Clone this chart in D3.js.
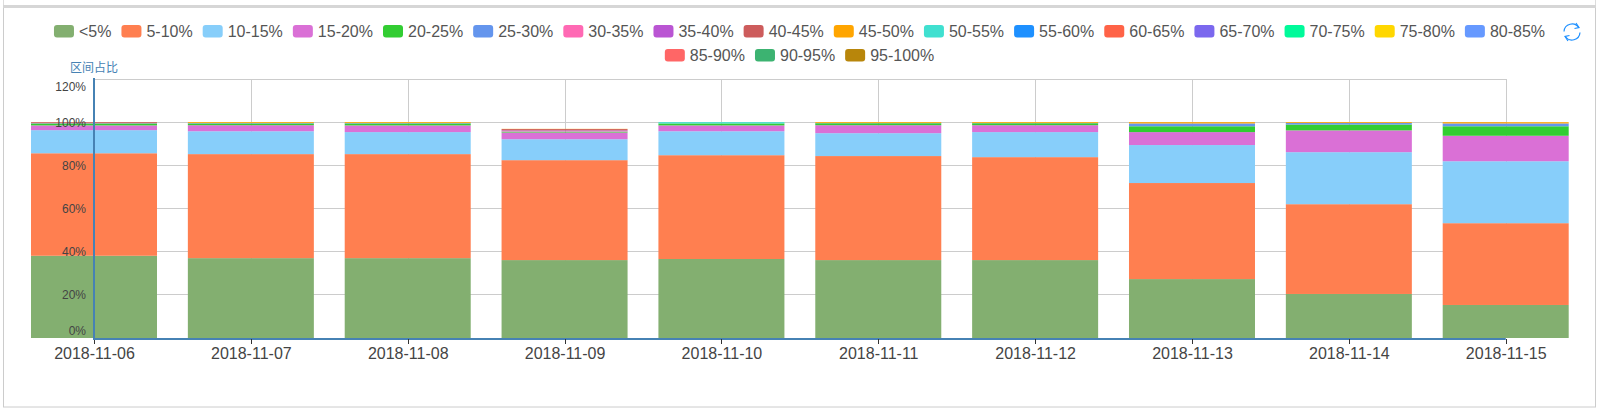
<!DOCTYPE html>
<html><head><meta charset="utf-8">
<script src="https://d3js.org/d3.v7.min.js"></script>
<style>
html,body{margin:0;padding:0;background:#fff;overflow:hidden}
svg{display:block;font-family:"Liberation Sans",Arial,sans-serif}
</style></head><body>
<svg id="c" width="1599" height="408"></svg>
<script>
const dates = ["2018-11-06","2018-11-07","2018-11-08","2018-11-09","2018-11-10","2018-11-11","2018-11-12","2018-11-13","2018-11-14","2018-11-15"];
const bandNames = ["<5%","5-10%","10-15%","15-20%","20-25%","25-30%","30-35%","35-40%","40-45%","45-50%","50-55%","55-60%","60-65%","65-70%","70-75%","75-80%","80-85%","85-90%","90-95%","95-100%"];
const bandColors = ["#83af70","#ff7f50","#87cefa","#da70d6","#32cd32","#6495ed","#ff69b4","#ba55d3","#cd5c5c","#ffa500","#40e0d0","#1e90ff","#ff6347","#7b68ee","#00fa9a","#ffd700","#6699ff","#ff6666","#3cb371","#b8860b"];
const band00 = [38.1,37.0,37.0,36.1,36.6,36.1,36.1,27.3,20.4,15.3];
const band05 = [47.5,48.2,48.2,46.3,48.1,48.2,47.7,44.5,41.6,37.9];
const band10 = [10.7,10.6,10.2,9.7,11.1,10.6,11.6,17.6,24.1,28.7];
const band15 = [2.2,2.8,3.1,3.1,2.7,3.7,3.2,6.0,10.1,11.8];
const band20 = [0.9,0.8,0.9,0.4,0.9,0.9,0.9,2.7,2.7,4.4];
const band25 = [0.1,0.2,0.2,0.1,0,0.1,0.1,1.3,0.7,1.3];
const band30 = [0.05,0,0,0.2,0,0,0,0,0,0];
const band35 = [0.05,0,0,0.3,0,0,0,0,0,0];
const band40 = [0.4,0,0,0.6,0,0,0,0,0,0];
const band45 = [0,0.4,0.4,0.1,0,0.4,0.4,0.6,0.4,0.6];
const band50 = [0,0,0,0,0.6,0,0,0,0,0];
const none = [0,0,0,0,0,0,0,0,0,0];
const bandValues = [band00,band05,band10,band15,band20,band25,band30,band35,band40,band45,band50,none,none,none,none,none,none,none,none,none];
const yTicks = [0,20,40,60,80,100,120];
const yTitle = "区间占比";

const svg = d3.select("#c");
const ink = "#444";

// page frame
svg.append("rect").attr("x",3.5).attr("y",7.5).attr("width",1592).attr("height",399.5)
  .attr("fill","#fff").attr("stroke","#ccc");
svg.append("rect").attr("x",3).attr("y",5).attr("width",1593).attr("height",3).attr("fill","#d6d6d6");
svg.append("path").attr("d","M3.5,0V5M1595.5,0V5").attr("stroke","#ddd").attr("fill","none");

// scales
const x = d3.scalePoint().domain(dates).range([94,1505.7]);
const y = d3.scaleLinear().domain([0,120]).range([338,79]);
const barW = 126;

// grid
const grid = svg.append("g").attr("stroke","#ccc").attr("stroke-width",1).attr("shape-rendering","crispEdges");
yTicks.forEach(t=>{const gy=Math.floor(y(t))+.5;grid.append("line").attr("x1",94).attr("x2",1506).attr("y1",gy).attr("y2",gy);});
dates.forEach(d=>grid.append("line").attr("x1",x(d)+.5).attr("x2",x(d)+.5).attr("y1",y(120)).attr("y2",y(0)));

// bars
const stackRows = dates.map((d,i)=>{const r={date:d};bandNames.forEach((n,k)=>r[n]=bandValues[k][i]);return r;});
const stacked = d3.stack().keys(bandNames)(stackRows);
svg.append("g").selectAll("g").data(stacked).join("g")
  .attr("fill",(s,i)=>bandColors[i])
  .selectAll("rect").data(s=>s.filter(p=>p[1]-p[0]>0)).join("rect")
  .attr("x",p=>x(p.data.date)-barW/2).attr("width",barW)
  .attr("y",p=>y(p[1])).attr("height",p=>y(p[0])-y(p[1]));

// x axis
const xAxis = svg.append("g").attr("transform","translate(0,339)")
  .call(d3.axisBottom(x).tickSize(5).tickSizeOuter(0).tickPadding(4));
xAxis.select(".domain").attr("d","M94,0H1505.7").attr("stroke","#4682b4").attr("stroke-width",2);
xAxis.selectAll(".tick line").attr("stroke","#333").attr("shape-rendering","crispEdges");
xAxis.selectAll("text").attr("font-size",16).attr("font-family","'Liberation Sans',Arial,sans-serif").attr("fill",ink);

// y axis
const yAxis = svg.append("g").attr("transform","translate(94,0)")
  .call(d3.axisLeft(y).tickValues(yTicks).tickFormat(d=>d+"%").tickSize(0).tickPadding(8));
yAxis.select(".domain").attr("d","M0,78V340").attr("stroke","#4682b4").attr("stroke-width",2);
yAxis.selectAll("text").attr("font-size",12).attr("font-family","'Liberation Sans',Arial,sans-serif").attr("fill",ink)
  .attr("dy",d=>d===120?"0.95em":d===0?"-0.3em":"0.33em");
svg.append("text").attr("x",94).attr("y",72).attr("text-anchor","middle")
  .attr("font-size",12).attr("font-family","'Noto Sans CJK SC',sans-serif").attr("fill","#4682b4").text(yTitle);

// legend
const legend = svg.append("g").attr("font-size",16).attr("fill","#555");
const rows = [bandNames.slice(0,17),bandNames.slice(17)];
rows.forEach((row,ri)=>{
  const g = legend.append("g");
  let px = 0;
  row.forEach(n=>{
    const i = bandNames.indexOf(n);
    g.append("rect").attr("x",px).attr("y",0).attr("width",20).attr("height",12.5).attr("rx",3).attr("fill",bandColors[i]);
    const t = g.append("text").attr("x",px+25).attr("y",12).text(n);
    px += 25 + t.node().getComputedTextLength() + 10;
  });
  g.attr("transform",`translate(${799.5-(px-10)/2},${25+ri*24})`);
});

// refresh icon
const icon = svg.append("g").attr("transform","translate(1572,32)").attr("fill","none").attr("stroke","#1e90ff").attr("stroke-width",1.2);
const arc1 = d3.path(); arc1.arc(0,0,8,-Math.PI*0.98,-Math.PI*0.18);
const arc2 = d3.path(); arc2.arc(0,0,8,Math.PI*0.02,Math.PI*0.82);
icon.append("path").attr("d",arc1.toString());
icon.append("path").attr("d",arc2.toString());
icon.append("path").attr("d","M4,-9L7,-4.5L2.5,-3.5M-4,9L-7,4.5L-2.5,3.5");
</script>
</body></html>
